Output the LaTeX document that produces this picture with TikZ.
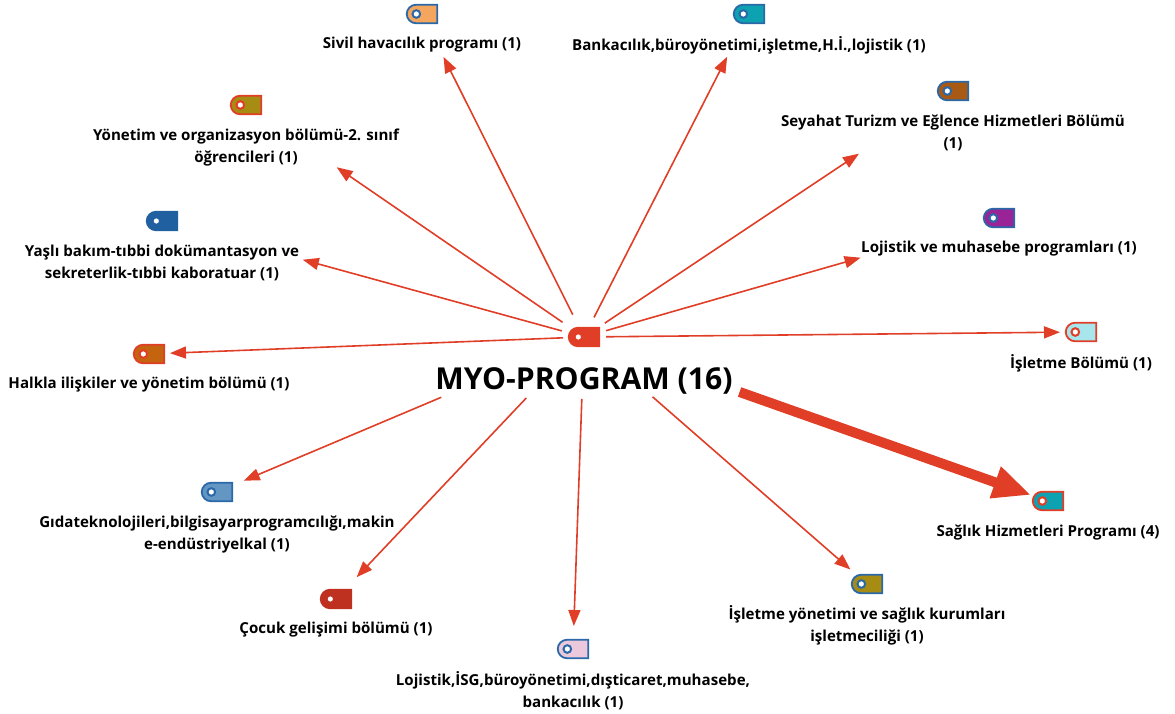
\documentclass[tikz,border=0pt]{standalone}
\usepackage{fontspec}
\setmainfont{Open Sans}
\usetikzlibrary{arrows.meta,shapes.misc}
\definecolor{rougeF}{HTML}{E03E26}
\definecolor{bleuB}{HTML}{2A68A8}
\definecolor{bleuF}{HTML}{2060A0}
\definecolor{orangeC}{HTML}{F4A55E}
\definecolor{turq}{HTML}{0CA2B2}
\definecolor{olive}{HTML}{A68C12}
\definecolor{brun}{HTML}{A85A14}
\definecolor{violet}{HTML}{9B2398}
\definecolor{orangeF}{HTML}{C4640F}
\definecolor{cyanC}{HTML}{A6E6EC}
\definecolor{bleuC}{HTML}{6496C4}
\definecolor{rougeS}{HTML}{BE3020}
\definecolor{rose}{HTML}{ECC8DC}
\begin{document}
\begin{tikzpicture}[x=1pt,y=-1pt]
\tikzset{tinoeud/.style n args={2}{draw=#1, fill=#2, line width=1.8pt, rounded rectangle, rounded rectangle east arc=none, minimum width=30.5pt, minimum height=18.5pt, inner sep=0pt, path picture={\draw[draw=#1, line width=2pt, fill=white] ([xshift=-5.7pt]path picture bounding box.center) circle (3.8pt);}}}
\tikzset{etiq/.style={font=\bfseries\fontsize{15.1}{22}\selectfont, align=center, inner sep=0pt}}
\tikzset{fleche/.style={draw=rougeF, line width=1.6pt, -{Triangle[length=16pt,width=12pt]}}}
\useasboundingbox (0,0) rectangle (1175,714);
\node[tinoeud={rougeF}{rougeF}] (V0) at (584,337) {};
\node[tinoeud={bleuB}{orangeC}] (V1) at (422,14) {};
\node[tinoeud={bleuB}{turq}] (V2) at (749,14) {};
\node[tinoeud={rougeF}{olive}] (V3) at (246,105) {};
\node[tinoeud={bleuB}{brun}] (V4) at (953,91) {};
\node[tinoeud={bleuF}{bleuF}] (V5) at (162,221) {};
\node[tinoeud={bleuB}{violet}] (V6) at (999,218) {};
\node[tinoeud={rougeF}{orangeF}] (V7) at (149,354) {};
\node[tinoeud={rougeF}{cyanC}] (V8) at (1081,332) {};
\node[tinoeud={bleuB}{bleuC}] (V9) at (217,492) {};
\node[tinoeud={rougeF}{turq}] (V10) at (1048,501) {};
\node[tinoeud={bleuB}{olive}] (V11) at (867,584) {};
\node[tinoeud={rougeS}{rougeS}] (V12) at (336,599) {};
\node[tinoeud={bleuB}{rose}] (V13) at (573,649) {};
\node[etiq, font=\bfseries\fontsize{30.2}{36}\selectfont] (E0) at (584,381) {MYO-PROGRAM (16)};
\node[etiq] (E1) at (422,45) {Sivil havacılık programı (1)};
\node[etiq] (E2) at (749,45) {Bankacılık,büroyönetimi,işletme,H.İ.,lojistik (1)};
\node[etiq] (E3) at (246,148) {Yönetim ve organizasyon bölümü-2. sınıf\\öğrencileri (1)};
\node[etiq] (E4) at (953,133) {Seyahat Turizm ve Eğlence Hizmetleri Bölümü\\(1)};
\node[etiq] (E5) at (162,263) {Yaşlı bakım-tıbbi dokümantasyon ve\\sekreterlik-tıbbi kaboratuar (1)};
\node[etiq] (E6) at (999,249) {Lojistik ve muhasebe programları (1)};
\node[etiq] (E7) at (149,385) {Halkla ilişkiler ve yönetim bölümü (1)};
\node[etiq] (E8) at (1081,363) {İşletme Bölümü (1)};
\node[etiq] (E9) at (217,534) {Gıdateknolojileri,bilgisayarprogramcılığı,makin\\e-endüstriyelkal (1)};
\node[etiq] (E10) at (1048,532) {Sağlık Hizmetleri Programı (4)};
\node[etiq] (E11) at (867,625) {İşletme yönetimi ve sağlık kurumları\\işletmeciliği (1)};
\node[etiq] (E12) at (336,630) {Çocuk gelişimi bölümü (1)};
\node[etiq] (E13) at (573,691) {Lojistik,İSG,büroyönetimi,dışticaret,muhasebe,\\bankacılık (1)};
\draw[fleche, shorten <=25pt, shorten >=48pt] (V0.center) -- (V1.center);
\draw[fleche, shorten <=22pt, shorten >=48pt] (V0.center) -- (V2.center);
\draw[fleche, shorten <=26pt, shorten >=110pt] (V0.center) -- (V3.center);
\draw[fleche, shorten <=25pt, shorten >=113pt] (V0.center) -- (V4.center);
\draw[fleche, shorten <=23pt, shorten >=146pt] (V0.center) -- (V5.center);
\draw[fleche, shorten <=23pt, shorten >=144pt] (V0.center) -- (V6.center);
\draw[fleche, shorten <=21pt, shorten >=21pt] (V0.center) -- (V7.center);
\draw[fleche, shorten <=22pt, shorten >=21pt] (V0.center) -- (V8.center);
\draw[fleche, shorten <=155pt, shorten >=29pt] (V0.center) -- (V9.center);
\draw[fleche, line width=10pt, -{Triangle[length=38pt,width=31pt]}, shorten <=165pt, shorten >=18pt] (V0.center) -- (V10.center);
\draw[fleche, shorten <=91pt, shorten >=22pt] (V0.center) -- (V11.center);
\draw[fleche, shorten <=84pt, shorten >=30pt] (V0.center) -- (V12.center);
\draw[fleche, shorten <=62pt, shorten >=23pt] (V0.center) -- (V13.center);
\end{tikzpicture}
\end{document}
